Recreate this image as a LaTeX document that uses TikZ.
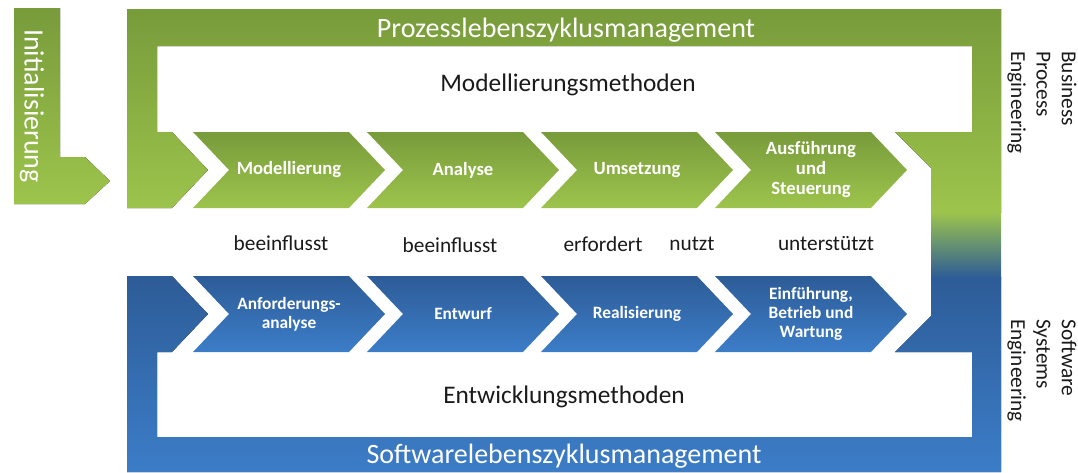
\documentclass[tikz,border=0pt]{standalone}
\usepackage{fontspec}
\setmainfont{Carlito}
\usetikzlibrary{shapes.symbols}

\definecolor{green-dark}{HTML}{789B3B}
\definecolor{green-light}{HTML}{9DC44C}
\definecolor{blue-dark}{HTML}{2D5C97}
\definecolor{blue-light}{HTML}{3C7DC8}
\definecolor{label-text}{HTML}{1A1A1A}

\begin{document}
\begin{tikzpicture}[x=0.75pt, y=-0.75pt,
	green-shade/.style={top color=green-dark, bottom color=green-light},
	blue-shade/.style={top color=blue-dark, bottom color=blue-light},
	chevron/.style={shape=signal, signal from=west, signal to=east, signal pointer angle=93,
		minimum width=144pt, minimum height=57pt, inner sep=0pt, align=center, text=white},
	green-chevron/.style={chevron, green-shade, font=\fontsize{14}{15}\selectfont\bfseries},
	blue-chevron/.style={chevron, blue-shade, font=\fontsize{13}{14}\selectfont\bfseries},
	band-title/.style={text=white, font=\fontsize{21}{25}\selectfont},
	method-title/.style={text=label-text, font=\fontsize{19}{23}\selectfont},
	relation/.style={text=label-text, font=\fontsize{16}{19}\selectfont},
	side-title/.style={text=label-text, align=left, rotate=-90, anchor=west, inner sep=0pt,
		font=\fontsize{16}{19}\selectfont}]
	\useasboundingbox (0,0) rectangle (1078,472);

	\fill[green-shade] (14,8) -- (60,8) -- (60,157) -- (85,157) -- (110,181) -- (85,204) -- (14,204) -- cycle;
	\node[band-title, rotate=-90] at (32,106) (init) {Initialisierung};

	\fill[green-shade] (127,9) -- (1001,9) -- (1001,213) -- (931,213) -- (931,168) -- (895,132) -- (972,132)
		-- (972,46) -- (157,46) -- (157,132) -- (172,132) -- (208,170) -- (172,208) -- (127,208) -- cycle;
	\fill[top color=green-light, bottom color=blue-dark] (931,212) rectangle (1001,278);
	\fill[blue-shade] (127,276) -- (172,276) -- (208,314) -- (172,352) -- (157,352) -- (157,437) -- (972,437)
		-- (972,352) -- (895,352) -- (931,316) -- (931,277) -- (1001,277) -- (1001,472) -- (127,472) -- cycle;

	\node[band-title] at (566,30) (process-lifecycle) {Prozesslebenszyklusmanagement};
	\node[method-title] at (568,85) (modelling-methods) {Modellierungsmethoden};
	\node[band-title] at (564,456) (software-lifecycle) {Softwarelebenszyklusmanagement};
	\node[method-title] at (564,397) (development-methods) {Entwicklungsmethoden};

	\node[green-chevron] at (289,170) (modelling) {Modellierung};
	\node[green-chevron] at (463,170) (analysis) {Analyse};
	\node[green-chevron] at (637,170) (implementation) {Umsetzung};
	\node[green-chevron] at (811,170) (execution) {Ausführung\\und\\Steuerung};

	\node[blue-chevron] at (289,314) (requirements) {Anforderungs-\\analyse};
	\node[blue-chevron] at (463,314) (design) {Entwurf};
	\node[blue-chevron] at (637,314) (realisation) {Realisierung};
	\node[blue-chevron] at (811,314) (operation) {Einführung,\\Betrieb und\\Wartung};

	\node[relation] at (281,243) (influences-a) {beeinflusst};
	\node[relation] at (450,245) (influences-b) {beeinflusst};
	\node[relation] at (603,244) (requires) {erfordert};
	\node[relation] at (692,244) (uses) {nutzt};
	\node[relation] at (826,244) (supports) {unterstützt};

	\node[side-title] at (1042,51) (bpe) {Business\\Process\\Engineering};
	\node[side-title] at (1042,319) (sse) {Software\\Systems\\Engineering};
\end{tikzpicture}
\end{document}
